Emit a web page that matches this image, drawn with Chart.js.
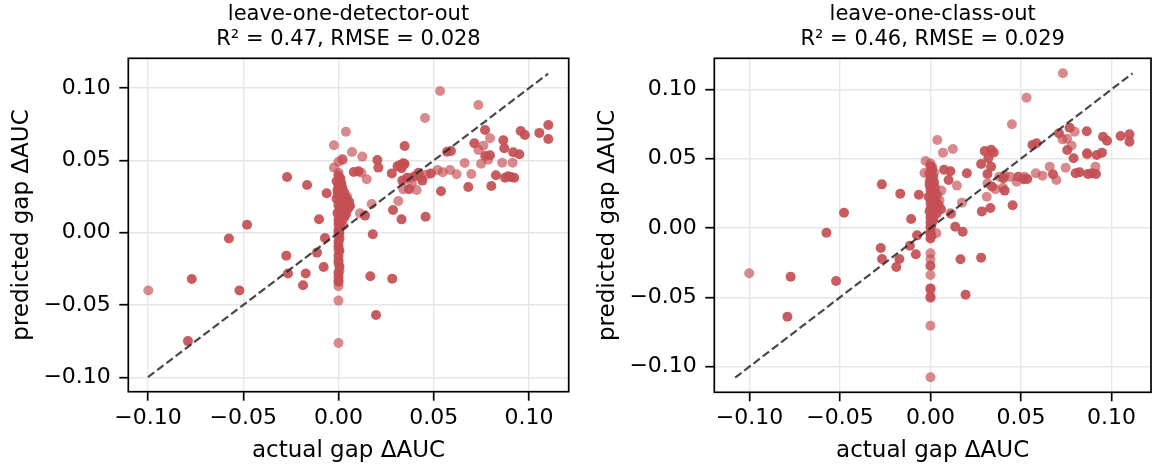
<!DOCTYPE html>
<html>
<head>
<meta charset="utf-8">
<script src="https://cdn.jsdelivr.net/npm/chart.js@4.4.0/dist/chart.umd.min.js"></script>
<style>
  html, body { margin: 0; padding: 0; background: #fff; }
  #wrap { position: relative; width: 1156px; height: 468px; }
  .panel { position: absolute; top: 0; height: 468px; }
</style>
</head>
<body>
<div id="wrap">
  <div class="panel" style="left:0;width:580px"><canvas id="left" width="580" height="468"></canvas></div>
  <div class="panel" style="left:580px;width:576px"><canvas id="right" width="576" height="468"></canvas></div>
</div>
<script>
// tick values shared by both panels
const tickVals = [-0.10, -0.05, 0.00, 0.05, 0.10];

// leave-one-detector-out: [actual, predicted]
const detectorTitle = ['leave-one-detector-out', 'R\u00b2 = 0.47, RMSE = 0.028'];
const detectorDiag = [-0.1, 0.11];
const detectorDark = [
  [-0.079,-0.075],[-0.077,-0.032],[-0.0575,-0.004],[-0.048,0.0055],[-0.052,-0.040],
  [-0.027,0.0385],[-0.0165,0.033],[-0.0062,0.0272],[-0.0102,0.0093],[-0.0071,-0.0037],
  [-0.0113,-0.0138],[-0.0274,-0.0159],[-0.0265,-0.0283],[-0.0172,-0.0283],[-0.0186,-0.0364],
  [-0.0078,-0.0237],[0.0204,0.0503],[0.0209,0.045],[0.0347,0.060],[0.008,0.042],
  [0.0105,0.0425],[0.028,0.041],[0.031,0.046],[0.0325,0.047],[0.034,0.048],
  [0.036,0.038],[0.040,0.039],[0.037,0.030],[0.0335,0.036],[0.042,0.0415],[0.044,0.036],
  [0.0286,0.0157],[0.0331,0.0092],[0.0457,0.011],[0.0139,0.0118],[0.0057,0.019],
  [0.018,-0.0011],[0.0167,-0.0302],[0.0282,-0.0318],[0.0197,-0.0569],[0.0485,0.041],
  [0.0538,0.0286],[0.057,0.056],[0.059,0.0565],[0.0681,0.0316],[0.0713,0.0618],
  [0.0769,0.071],[0.077,0.053],[0.0795,0.0535],[0.0826,0.0397],[0.0802,0.0323],
  [0.0865,0.0639],[0.087,0.0584],[0.0874,0.038],[0.089,0.039],[0.0905,0.0385],
  [0.0922,0.038],[0.0917,0.0556],[0.0949,0.0542],[0.0956,0.0703],[0.0978,0.0676],
  [0.1054,0.069],[0.1101,0.0745],[0.1101,0.0648],[0.0347,0.0475],[0.0331,0.0445],
  // column at actual = 0
  [0,0.0395],[0.001,0.0375],[-0.001,0.0355],[0.0015,0.034],[0,0.032],[0.002,0.031],
  [-0.0005,0.0295],[0.003,0.028],[0,0.027],[0.0015,0.0255],[0.004,0.024],[-0.001,0.0235],
  [0.001,0.022],[0.0025,0.0205],[0,0.019],[0.0035,0.0175],[0.0005,0.0165],[0.002,0.015],
  [-0.0005,0.0135],[0.001,0.012],[0.003,0.0105],[0,0.009],[0.0015,0.0075],[0,0.006],
  [0.001,0.004],[0,0.002],[0.0005,0.0],[0,-0.0015],[0.0005,-0.004],[0,-0.0065],
  [0,-0.0095],[0.0005,-0.0125],[0,-0.016],[0,-0.0195],[0.0005,-0.0235],[0,-0.0275],
  [0,-0.0305],[0,-0.034],[0.0055,0.0215],[0.006,0.0185],[0.004,0.013],[0.005,0.0165]
];
const detectorLight = [
  [-0.0998,-0.040],[-0.0024,0.0604],[-0.0024,0.045],[0.0533,0.098],[0.0734,0.0883],
  [0.0454,0.0793],[0.0039,0.0698],[0.0071,0.0558],[0.0125,0.0526],[0.002,0.051],
  [0.012,0.0415],[0.0148,0.037],[0.038,0.038],[0.043,0.0385],[0.034,0.030],
  [0.041,0.0295],[0.0385,0.034],[0.046,0.040],[0.0314,0.0219],[0.0174,0.0198],
  [0.0113,0.0134],[0.052,0.0434],[0.0547,0.0418],[0.0585,0.0434],[0.062,0.0404],
  [0.0662,0.0482],[0.0697,0.0406],[0.0734,0.0572],[0.076,0.0602],[0.0795,0.0653],
  [0.0748,0.0477],[0.0785,0.0505],[0.0859,0.0484],[0.0914,0.0484],[0.0022,0.0503],
  [0,0.049],[0,0.0415],[0.0005,0.0355],[-0.0005,0.0265],[0.001,0.017],[0.0005,0.0085],
  [0,0.0005],[0,-0.012],[0,-0.021],[0.0005,-0.0265],[0,-0.0335],[0,-0.037],
  [0.0045,0.025],[0.0025,0.005],[0,-0.047],[0,-0.0763]
];

// leave-one-class-out: [actual, predicted]
const classTitle = ['leave-one-class-out', 'R\u00b2 = 0.46, RMSE = 0.029'];
const classDiag = [-0.108, 0.1117];
const classDark = [
  [-0.0791,-0.064],[-0.0773,-0.0351],[-0.0575,-0.0034],[-0.0478,0.011],[-0.0522,-0.0383],
  [-0.0269,0.0315],[-0.0167,0.0248],[-0.0064,0.024],[-0.0107,0.0065],[-0.0074,-0.0053],
  [-0.0114,-0.0128],[-0.0275,-0.0144],[-0.0268,-0.0224],[-0.0172,-0.0224],[-0.0189,-0.0282],
  [-0.0081,-0.019],[0.0201,0.0395],[0.028,0.0462],[0.030,0.0555],[0.0335,0.0565],
  [0.035,0.0545],[0.032,0.0503],[0.0335,0.0443],[0.0315,0.039],[0.010,0.0347],
  [0.0075,0.042],[0.011,0.041],[0.034,0.030],[0.041,0.027],[0.0403,0.0359],
  [0.0284,0.012],[0.0331,0.0144],[0.0454,0.0164],[0.0137,0.0009],[0.0178,-0.0027],
  [0.0166,-0.0226],[0.028,-0.0214],[0.0194,-0.0481],[0.0058,0.0135],[0.0485,0.037],
  [0.0516,0.0352],[0.0535,0.0354],[0.0564,0.060],[0.0586,0.0612],[0.0677,0.0388],
  [0.0710,0.0684],[0.0769,0.0724],[0.0756,0.0563],[0.0791,0.0503],[0.0802,0.0395],
  [0.0824,0.0402],[0.0864,0.0698],[0.0866,0.0539],[0.087,0.039],[0.0893,0.0395],
  [0.0915,0.039],[0.0919,0.0527],[0.0948,0.0544],[0.0954,0.0659],[0.0976,0.063],
  [0.1051,0.0664],[0.110,0.0676],[0.110,0.0623],
  // column at actual = 0
  [0,0.0445],[0.001,0.042],[-0.0005,0.0395],[0.0015,0.037],[0,0.035],[0.002,0.033],
  [-0.0005,0.031],[0.0025,0.029],[0,0.0275],[0.001,0.0255],[0.0035,0.024],[-0.001,0.0225],
  [0.0015,0.021],[0.003,0.019],[0,0.018],[0.0045,0.0165],[0.001,0.0155],[0.002,0.0135],
  [-0.0005,0.012],[0.0035,0.0105],[0.001,0.009],[0,0.0075],[0.0015,0.006],[0,0.004],
  [0.0005,0.002],[0,0.0005],[0,-0.0025],[0.0005,-0.0055],[0,-0.0075],[0,-0.0272],
  [0,-0.0436],[0,-0.0496]
];
const classLight = [
  [-0.1002,-0.0327],[-0.0027,0.0484],[-0.0033,0.0397],[0.0732,0.1117],[0.0531,0.0941],
  [0.045,0.0749],[0.0038,0.0635],[0.0124,0.057],[0.0069,0.0544],[0.001,0.044],
  [0.002,0.040],[0.0146,0.0306],[0.0174,0.0183],[0.011,0.0106],[0.0033,-0.0038],
  [0.0311,0.0226],[0.038,0.037],[0.041,0.038],[0.044,0.037],[0.036,0.028],
  [0.040,0.029],[0.0315,0.0323],[0.0476,0.0334],[0.052,0.037],[0.0582,0.0395],
  [0.0619,0.0378],[0.0659,0.0443],[0.0696,0.0347],[0.0797,0.0695],[0.073,0.064],
  [0.0755,0.0645],[0.078,0.0595],[0.0747,0.0435],[0.0866,0.053],[0.0912,0.0443],
  [0.0115,0.0101],[0,0.0465],[-0.0005,0.0335],[0.0005,0.0235],[0,0.0145],[0.001,0.0045],
  [0,-0.0045],[0,-0.0183],[0,-0.0226],[0,-0.0339],[0,-0.0445],[0,-0.0505],
  [0,-0.0705],[0,-0.1078],[0.005,0.02],[0.006,0.027]
];

const FONT = 'DejaVu Sans';
const RED = '196,78,82';

function fmtTick(v) {
  if (Math.abs(v) < 1e-9) return '0.00';
  return (v < 0 ? '\u2212' : '') + Math.abs(v).toFixed(2);
}

// frame (all four spines) + two-line title centred on the plot area
const framePlugin = {
  id: 'frame',
  afterDraw(chart, args, opts) {
    const { ctx, chartArea: a } = chart;
    ctx.save();
    ctx.strokeStyle = '#000';
    ctx.lineWidth = 1.7;
    ctx.strokeRect(a.left, a.top, a.right - a.left, a.bottom - a.top);
    ctx.fillStyle = '#000';
    ctx.font = '21px "' + FONT + '"';
    ctx.textAlign = 'center';
    ctx.textBaseline = 'alphabetic';
    const cx = (a.left + a.right) / 2;
    opts.lines.forEach((t, i) => ctx.fillText(t, cx, opts.baselines[i]));
    ctx.restore();
  }
};

function toPts(arr) {
  return arr.map(p => ({ x: p[0], y: p[1] }));
}

function makePanel(id, p) {
  return new Chart(document.getElementById(id), {
    type: 'scatter',
    data: {
      datasets: [
        {
          data: p.diag.map(v => ({ x: v, y: v })),
          showLine: true,
          borderColor: 'rgba(40,40,40,0.85)',
          borderWidth: 2.2,
          borderDash: [8, 3.6],
          pointRadius: 0,
          fill: false,
          order: 0
        },
        {
          data: toPts(p.dark),
          backgroundColor: 'rgba(' + RED + ',0.92)',
          pointRadius: 5,
          borderWidth: 0,
          order: 1
        },
        {
          data: toPts(p.light),
          backgroundColor: 'rgba(' + RED + ',0.66)',
          pointRadius: 5,
          borderWidth: 0,
          order: 2
        }
      ]
    },
    options: {
      responsive: false,
      animation: false,
      layout: { padding: { top: 58.3, right: p.padRight, bottom: 0, left: 0 } },
      plugins: {
        legend: { display: false },
        tooltip: { enabled: false },
        frame: { lines: p.title, baselines: [19.5, 44.5] }
      },
      scales: {
        x: {
          type: 'linear',
          min: p.xMin,
          max: p.xMax,
          afterBuildTicks: s => { s.ticks = tickVals.map(v => ({ value: v })); },
          afterFit: s => { s.height = p.xAxisH; },
          ticks: {
            callback: fmtTick,
            font: { family: FONT, size: 22 },
            color: '#000',
            padding: 4,
            maxRotation: 0,
            autoSkip: false
          },
          grid: { color: '#e6e6e6', lineWidth: 1.4, tickLength: 9, tickColor: '#000', tickWidth: 1.7 },
          border: { display: false },
          title: {
            display: true,
            text: 'actual gap \u0394AUC',
            font: { family: FONT, size: 23 },
            color: '#000',
            padding: { top: 0, bottom: 3 }
          }
        },
        y: {
          type: 'linear',
          min: p.yMin,
          max: p.yMax,
          afterBuildTicks: s => { s.ticks = tickVals.map(v => ({ value: v })); },
          afterFit: s => { s.width = p.yAxisW; },
          ticks: {
            callback: fmtTick,
            font: { family: FONT, size: 22 },
            color: '#000',
            padding: 8.5,
            autoSkip: false
          },
          grid: { color: '#e6e6e6', lineWidth: 1.4, tickLength: 9, tickColor: '#000', tickWidth: 1.7 },
          border: { display: false },
          title: {
            display: true,
            text: 'predicted gap \u0394AUC',
            font: { family: FONT, size: 23 },
            color: '#000',
            padding: { top: p.yTitlePad, bottom: 0 }
          }
        }
      }
    },
    plugins: [framePlugin]
  });
}

makePanel('left', {
  title: detectorTitle, diag: detectorDiag, dark: detectorDark, light: detectorLight,
  xMin: -0.1103, xMax: 0.1208, yMin: -0.110, yMax: 0.1206,
  yAxisW: 128.3, xAxisH: 76.3, padRight: 11.3, yTitlePad: 8
});

makePanel('right', {
  title: classTitle, diag: classDiag, dark: classDark, light: classLight,
  xMin: -0.1195, xMax: 0.1219, yMin: -0.1186, yMax: 0.1225,
  yAxisW: 134.3, xAxisH: 75.7, padRight: 2.5, yTitlePad: 14.5
});
</script>
</body>
</html>
